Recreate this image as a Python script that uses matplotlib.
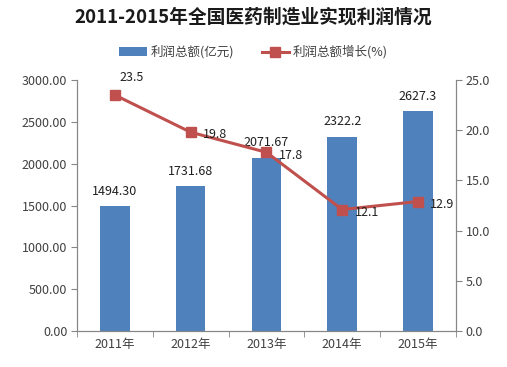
import matplotlib.pyplot as plt
import numpy as np

plt.rcParams['font.family'] = ['Noto Sans CJK SC', 'DejaVu Sans']

years = ["2011年", "2012年", "2013年", "2014年", "2015年"]
profit = [1494.30, 1731.68, 2071.67, 2322.2, 2627.3]
profit_labels = ["1494.30", "1731.68", "2071.67", "2322.2", "2627.3"]
growth = [23.5, 19.8, 17.8, 12.1, 12.9]

blue = "#4F81BD"
red = "#C0504D"
grey = "#868686"
txt = "#404040"

fig = plt.figure(figsize=(5.07, 3.67), dpi=100)
ax = fig.add_axes([0.152, 0.098, 0.747, 0.684])
x = np.arange(len(years))

ax.bar(x, profit, width=0.39, color=blue, zorder=2, label="利润总额(亿元)")
ax.set_xlim(-0.5, len(years) - 0.5)
ax.set_ylim(0, 3000)
ax.set_yticks(np.arange(0, 3001, 500))
ax.set_yticklabels([f"{v:.2f}" for v in np.arange(0, 3001, 500)])
ax.set_xticks(x)
ax.set_xticklabels(years)
ax.set_xticks(np.arange(-0.5, len(years), 1), minor=True)
ax.tick_params(axis='x', which='major', length=0, labelsize=9, colors=txt, pad=5)
ax.tick_params(axis='x', which='minor', length=4, color=grey, direction='out')
ax.tick_params(axis='y', length=4, color=grey, labelsize=9, labelcolor=txt, pad=3)
ax.spines['top'].set_visible(False)
for s in ['left', 'right', 'bottom']:
    ax.spines[s].set_color(grey)

for xi, v, lab in zip(x, profit, profit_labels):
    ax.annotate(lab, (xi, v), xytext=(0, 6), textcoords='offset points',
                ha='center', va='bottom', fontsize=9, color="#202020")

ax2 = ax.twinx()
ax2.plot(x, growth, color=red, lw=2.2, marker='s', markersize=7, zorder=3,
         label="利润总额增长(%)")
ax2.set_ylim(0, 25)
ax2.set_yticks(np.arange(0, 25.1, 5))
ax2.set_yticklabels([f"{v:.1f}" for v in np.arange(0, 25.1, 5)])
ax2.tick_params(axis='y', length=4, color=grey, labelsize=9, labelcolor=txt, pad=3)
ax2.spines['top'].set_visible(False)
for s in ['left', 'right', 'bottom']:
    ax2.spines[s].set_color(grey)

for i, (xi, g) in enumerate(zip(x, growth)):
    if i == 0:
        off, ha, va = (3, 8), 'left', 'bottom'
    else:
        off, ha, va = (9, -2), 'left', 'center'
    ax2.annotate(f"{g}", (xi, g), xytext=off, textcoords='offset points',
                 ha=ha, va=va, fontsize=9, color="#202020")

fig.text(0.5, 0.953, "2011-2015年全国医药制造业实现利润情况", ha='center', va='center',
         fontsize=13.5, fontweight='bold', color="#1a1a1a")

h1, l1 = ax.get_legend_handles_labels()
h2, l2 = ax2.get_legend_handles_labels()
fig.legend(h1 + h2, l1 + l2, loc='center', bbox_to_anchor=(0.5, 0.858), ncol=2,
           frameon=False, fontsize=9, handlelength=2.2, handletextpad=0.3,
           columnspacing=2.2, labelcolor=txt)

fig.savefig("out.png", dpi=100)
